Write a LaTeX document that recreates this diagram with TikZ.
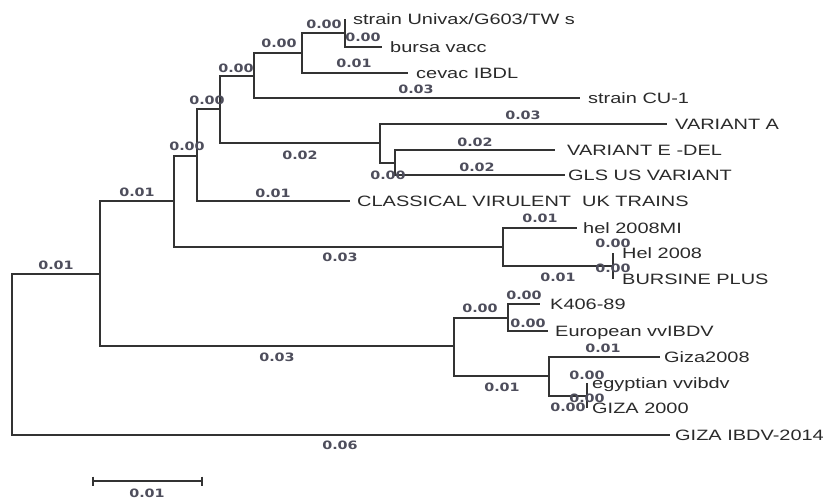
\documentclass[tikz,border=0pt]{standalone}
\usepackage{fontspec}
\usepackage{graphicx}
\setmainfont{Liberation Sans}
\newfontfamily\lblfont{DejaVu Sans}
\usetikzlibrary{calc}
\definecolor{linec}{HTML}{333333}
\definecolor{leafc}{HTML}{2A2A2A}
\definecolor{lblc}{HTML}{4E4E5C}
\newcommand\lx[1]{\scalebox{1.33}[1]{#1}}
\newcommand\bx[1]{\scalebox{1.25}[1]{#1}}
\begin{document}
\begin{tikzpicture}[x=1pt,y=-1pt,
  branch/.style={draw=linec, line width=1.7pt},
  leaf/.style={anchor=base west, inner sep=0pt, text=leafc, font=\fontsize{15}{15}\selectfont},
  blen/.style={anchor=center, inner sep=0pt, text=lblc, font=\lblfont\bfseries\fontsize{11.5}{11.5}\selectfont},
]
\useasboundingbox[fill=white] (0,0) rectangle (830,501);
% internal nodes
\coordinate (r) at (12,354.5);
\coordinate (A) at (100,274);
\coordinate (B) at (174,201);
\coordinate (C) at (197,156);
\coordinate (D) at (220,109);
\coordinate (E) at (254,76);
\coordinate (F) at (302,53);
\coordinate (G) at (345,33);
\coordinate (H) at (380,143);
\coordinate (I) at (395,163);
\coordinate (J) at (503,247);
\coordinate (K) at (613,266);
\coordinate (L) at (454,346);
\coordinate (M) at (508,318);
\coordinate (N) at (549,376);
\coordinate (O) at (587,396);
% leaves
\coordinate (univax) at (345,19);
\coordinate (bursa) at (382,47);
\coordinate (cevac) at (408,73);
\coordinate (cu) at (580,98);
\coordinate (vara) at (667,124);
\coordinate (vare) at (555,150);
\coordinate (gls) at (565,175);
\coordinate (clas) at (350,201);
\coordinate (helmi) at (577,228);
\coordinate (hel) at (613,253);
\coordinate (burs) at (613,279);
\coordinate (k406) at (540,304);
\coordinate (euro) at (548,331);
\coordinate (giza8) at (660,357);
\coordinate (egypt) at (587,383);
\coordinate (giza0) at (587,408);
\coordinate (gizai) at (670,435);
% branches
\draw[branch] (r) |- (A);
\draw[branch] (r) |- (gizai);
\draw[branch] (A) |- (B);
\draw[branch] (A) |- (L);
\draw[branch] (B) |- (C);
\draw[branch] (B) |- (J);
\draw[branch] (C) |- (D);
\draw[branch] (C) |- (clas);
\draw[branch] (D) |- (E);
\draw[branch] (D) |- (H);
\draw[branch] (E) |- (F);
\draw[branch] (E) |- (cu);
\draw[branch] (F) |- (G);
\draw[branch] (F) |- (cevac);
\draw[branch] (G) |- (univax);
\draw[branch] (G) |- (bursa);
\draw[branch] (H) |- (vara);
\draw[branch] (H) |- (I);
\draw[branch] (I) |- (vare);
\draw[branch] (I) |- (gls);
\draw[branch] (J) |- (helmi);
\draw[branch] (J) |- (K);
\draw[branch] (K) |- (hel);
\draw[branch] (K) |- (burs);
\draw[branch] (L) |- (M);
\draw[branch] (L) |- (N);
\draw[branch] (M) |- (k406);
\draw[branch] (M) |- (euro);
\draw[branch] (N) |- (giza8);
\draw[branch] (N) |- (O);
\draw[branch] (O) |- (egypt);
\draw[branch] (O) |- (giza0);
% leaf labels
\node[leaf] (tunivax) at (353,24.3) {\lx{strain Univax/G603/TW s}};
\node[leaf] (tbursa) at (390,52.3) {\lx{bursa vacc}};
\node[leaf] (tcevac) at (416,78.3) {\lx{cevac IBDL}};
\node[leaf] (tcu) at (588,103.3) {\lx{strain CU-1}};
\node[leaf] (tvara) at (675,129.3) {\lx{VARIANT A}};
\node[leaf] (tvare) at (567,155.3) {\lx{VARIANT E -DEL}};
\node[leaf] (tgls) at (568,180.3) {\lx{GLS US VARIANT}};
\node[leaf] (tclas) at (357,206.3) {\lx{CLASSICAL VIRULENT\ \ UK TRAINS}};
\node[leaf] (thelmi) at (583,233.3) {\lx{hel 2008MI}};
\node[leaf] (thel) at (622,258.3) {\lx{Hel 2008}};
\node[leaf] (tburs) at (622,284.3) {\lx{BURSINE PLUS}};
\node[leaf] (tk406) at (550,309.3) {\lx{K406-89}};
\node[leaf] (teuro) at (555,336.3) {\lx{European vvIBDV}};
\node[leaf] (tgiza8) at (664,362.3) {\lx{Giza2008}};
\node[leaf] (tegypt) at (592,388.3) {\lx{egyptian vvibdv}};
\node[leaf] (tgiza0) at (592,413.3) {\lx{GIZA 2000}};
\node[leaf] (tgizai) at (675,440.3) {\lx{GIZA IBDV-2014}};
% branch lengths
\node[blen] (b1) at (56,265) {\bx{0.01}};
\node[blen] (b2) at (137,192) {\bx{0.01}};
\node[blen] (b3) at (187,146) {\bx{0.00}};
\node[blen] (b4) at (207,100) {\bx{0.00}};
\node[blen] (b5) at (236,68) {\bx{0.00}};
\node[blen] (b6) at (279,43) {\bx{0.00}};
\node[blen] (b7) at (324,24) {\bx{0.00}};
\node[blen] (b8) at (363,37) {\bx{0.00}};
\node[blen] (b9) at (354,63) {\bx{0.01}};
\node[blen] (b10) at (416,89) {\bx{0.03}};
\node[blen] (b11) at (300,155) {\bx{0.02}};
\node[blen] (b12) at (523,115) {\bx{0.03}};
\node[blen] (b13) at (388,175) {\bx{0.00}};
\node[blen] (b14) at (475,142) {\bx{0.02}};
\node[blen] (b15) at (477,167) {\bx{0.02}};
\node[blen] (b16) at (273,193) {\bx{0.01}};
\node[blen] (b17) at (340,257) {\bx{0.03}};
\node[blen] (b18) at (540,218) {\bx{0.01}};
\node[blen] (b19) at (558,277) {\bx{0.01}};
\node[blen] (b20) at (613,243) {\bx{0.00}};
\node[blen] (b21) at (613,268) {\bx{0.00}};
\node[blen] (b22) at (277,357) {\bx{0.03}};
\node[blen] (b23) at (480,308) {\bx{0.00}};
\node[blen] (b24) at (524,295) {\bx{0.00}};
\node[blen] (b25) at (528,323) {\bx{0.00}};
\node[blen] (b26) at (502,387) {\bx{0.01}};
\node[blen] (b27) at (603,348) {\bx{0.01}};
\node[blen] (b28) at (568,407) {\bx{0.00}};
\node[blen] (b29) at (587,375) {\bx{0.00}};
\node[blen] (b30) at (587,398) {\bx{0.00}};
\node[blen] (b31) at (340,445) {\bx{0.06}};
% scale bar
\coordinate (sb1) at (93,481);
\coordinate (sb2) at (202,481);
\draw[branch] (sb1) -- (sb2);
\draw[branch] ($(sb1)+(0,-4.5)$) -- ($(sb1)+(0,4.5)$);
\draw[branch] ($(sb2)+(0,-4.5)$) -- ($(sb2)+(0,4.5)$);
\node[blen] (sbl) at (147,493.5) {\bx{0.01}};
\end{tikzpicture}
\end{document}
